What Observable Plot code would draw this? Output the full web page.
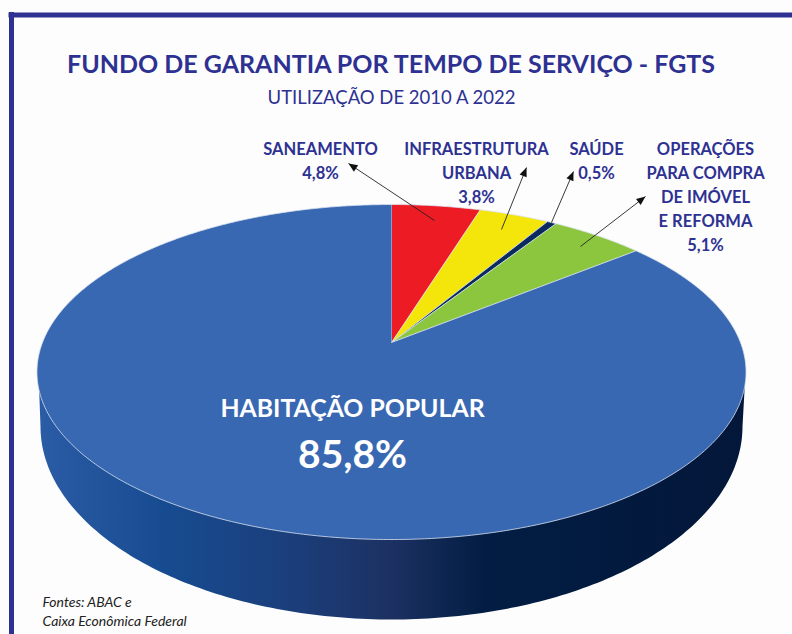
<!DOCTYPE html>
<html lang="pt-BR">
<head>
<meta charset="utf-8">
<script src="https://cdn.jsdelivr.net/npm/d3@7"></script>
<script src="https://cdn.jsdelivr.net/npm/@observablehq/plot@0.6"></script>
<style>
html,body{margin:0;padding:0;background:#fdfdfd;overflow:hidden}
svg{display:block}
</style>
</head>
<body>
<script>
// --- data ---
const categories = ["Saneamento", "Infraestrutura urbana", "Saúde", "Operações para compra de imóvel e reforma", "Habitação popular"];
const shares = [4.8, 3.8, 0.5, 5.1, 85.8];
const sliceColors = ["#ed1c24", "#f4e60a", "#0b2a5e", "#8cc63f", "#3968b2"];
const calloutTexts = ["SANEAMENTO\n4,8%", "INFRAESTRUTURA\nURBANA\n3,8%", "SAÚDE\n0,5%", "OPERAÇÕES\nPARA COMPRA\nDE IMÓVEL\nE REFORMA\n5,1%"];

// --- layout (page units, equal to the 792×634 frame) ---
const ink = "#2e3192";
const calloutX = [320, 476, 596, 705];
const calloutTop = 137.5;
const arrowFromX = [434, 501, 551, 580], arrowFromY = [220, 229, 222, 246];
const arrowToX = [348, 526, 573, 645], arrowToY = [163, 167, 171, 196];

// Perspective view of a round disc: the centre of the pie lies above the centre of the ellipse.
const ox = 391, oy = 342, RX = 349, RY = 162.3, K = 0.1762;
const rim = (deg) => {
  const t = deg * Math.PI / 180, d = 1 + K * Math.cos(t);
  return [ox + RX * Math.sin(t) / d, oy - RY * Math.cos(t) / d];
};

// slices
const sliceRows = [];
let cum = 0;
shares.forEach((s, i) => {
  const a0 = cum * 3.6, a1 = (cum + s) * 3.6;
  cum += s;
  const n = Math.max(2, Math.ceil((a1 - a0) * 2));
  const pts = [[ox, oy], ...d3.range(n + 1).map(k => rim(a0 + (a1 - a0) * k / n))];
  pts.forEach(([x, y]) => sliceRows.push({x, y, category: categories[i]}));
});

// side wall: lower outline of the extruded disc
const wallCx = 391, wallCy = 426, wallA = 351, wallB = 193;
const wallRows = [{x: 38, y: 372}, ...d3.range(181).map(k => {
  const t = k * Math.PI / 180;
  return {x: wallCx - wallA * Math.cos(t), y: wallCy + wallB * Math.sin(t)};
}), {x: 745, y: 372}];

// arrow heads
const headRows = [];
arrowToX.forEach((x2, i) => {
  const x1 = arrowFromX[i], y1 = arrowFromY[i], y2 = arrowToY[i];
  const L = Math.hypot(x2 - x1, y2 - y1), ux = (x2 - x1) / L, uy = (y2 - y1) / L;
  const hl = 9, hw = 3.8;
  [[x2, y2], [x2 - ux * hl - uy * hw, y2 - uy * hl + ux * hw], [x2 - ux * hl + uy * hw, y2 - uy * hl - ux * hw]]
    .forEach(([x, y]) => headRows.push({x, y, id: i}));
});

const wallGradient = () => {
  const ns = "http://www.w3.org/2000/svg";
  const defs = document.createElementNS(ns, "defs");
  const g = document.createElementNS(ns, "linearGradient");
  g.setAttribute("id", "wallShade");
  [[0, "#2b5ca6"], [0.18, "#174b90"], [0.35, "#1b3f7c"], [0.5, "#1c3162"], [0.63, "#021d43"], [1, "#03173a"]]
    .forEach(([o, c]) => {
      const s = document.createElementNS(ns, "stop");
      s.setAttribute("offset", o);
      s.setAttribute("stop-color", c);
      g.appendChild(s);
    });
  defs.appendChild(g);
  return defs;
};

const font = "Lato, 'Open Sans', sans-serif";

const chart = Plot.plot({
  width: 792,
  height: 634,
  margin: 0,
  style: {background: "#fdfdfd", fontFamily: font},
  x: {domain: [0, 792], range: [0, 792], axis: null},
  y: {domain: [0, 634], range: [0, 634], axis: null},
  color: {domain: categories, range: sliceColors},
  marks: [
    wallGradient,
    // frame
    Plot.ruleX([11], {y1: 12, y2: 634, stroke: ink, strokeWidth: 5}),
    Plot.ruleY([14.5], {x1: 8.5, x2: 792, stroke: ink, strokeWidth: 5}),
    // pie
    Plot.line(wallRows, {x: "x", y: "y", fill: "url(#wallShade)", stroke: "none"}),
    Plot.line(sliceRows, {x: "x", y: "y", z: "category", fill: "category", stroke: "#dbe3f1", strokeWidth: 0.8}),
    // arrows
    Plot.link(arrowToX.map((_, i) => i), {
      x1: i => arrowFromX[i], y1: i => arrowFromY[i], x2: i => arrowToX[i], y2: i => arrowToY[i],
      stroke: "#222", strokeWidth: 0.9
    }),
    Plot.line(headRows, {x: "x", y: "y", z: "id", fill: "#111", stroke: "none"}),
    // titles
    Plot.text(["FUNDO DE GARANTIA POR TEMPO DE SERVIÇO - FGTS"], {x: 390.5, y: 64, fontSize: 25, fontWeight: 700, fill: ink, lineAnchor: "middle"}),
    Plot.text(["UTILIZAÇÃO DE 2010 A 2022"], {x: 391, y: 98, fontSize: 18.5, fontWeight: 400, fill: ink, lineAnchor: "middle"}),
    // callouts
    Plot.text(calloutTexts, {x: (_, i) => calloutX[i], y: calloutTop, fontSize: 16.5, fontWeight: 700, fill: ink, lineAnchor: "top", lineHeight: 1.46}),
    // main slice label
    Plot.text(["HABITAÇÃO POPULAR"], {x: 352, y: 409, fontSize: 24.8, fontWeight: 700, fill: "#fff", lineAnchor: "middle"}),
    Plot.text(["85,8%"], {x: 352, y: 455, fontSize: 39, fontWeight: 700, fill: "#fff", lineAnchor: "middle"}),
    // source
    Plot.text(["Fontes: ABAC e\nCaixa Econômica Federal"], {x: 42, y: 594, fontSize: 14, fontStyle: "italic", fill: "#222", textAnchor: "start", lineAnchor: "top", lineHeight: 1.3})
  ]
});
document.body.appendChild(chart);
</script>
</body>
</html>
